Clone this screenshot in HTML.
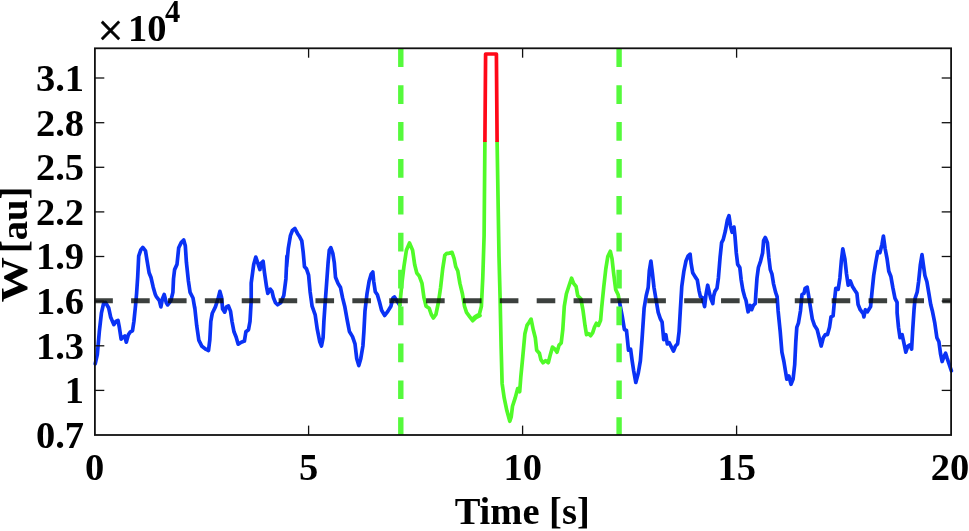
<!DOCTYPE html>
<html><head><meta charset="utf-8"><title>Plot</title>
<style>
html,body{margin:0;padding:0;background:#fff;}
svg{display:block}
text{font-family:"Liberation Serif",serif;font-weight:bold;font-size:38.5px;fill:#000}
</style></head><body>
<svg width="969" height="531" viewBox="0 0 969 531">
<rect width="969" height="531" fill="#fff"/>
<g fill="none" stroke-linejoin="round" stroke-linecap="round" stroke-width="3.7">
<path d="M95.2 363.9 L97.3 354.6 L99.3 331.8 L101.4 313.2 L103.5 303.8 L105.5 302.4 L108.7 308.0 L110.7 317.3 L113.8 324.6 L115.9 321.5 L118.0 320.4 L119.4 327.7 L121.1 339.1 L123.2 337.0 L124.8 336.0 L126.3 342.2 L128.3 334.9 L130.4 331.8 L132.5 330.8 L133.9 321.5 L135.6 304.9 L136.6 293.4 L137.7 276.8 L138.7 256.1 L140.8 249.9 L142.8 247.4 L145.5 250.9 L147.0 260.2 L149.1 272.7 L151.1 277.8 L153.2 287.2 L155.3 294.4 L156.3 296.6 L159.4 300.7 L160.9 306.9 L162.5 298.7 L164.2 294.5 L166.3 302.8 L167.7 304.9 L170.8 300.7 L172.9 292.4 L173.5 278.9 L174.6 269.6 L177.0 264.4 L178.7 247.8 L181.2 242.6 L183.7 239.9 L185.3 245.7 L186.4 262.3 L188.4 281.0 L190.1 292.4 L193.0 298.0 L194.7 307.9 L194.7 306.9 L196.7 325.6 L198.8 340.1 L201.9 346.3 L206.1 349.4 L208.5 350.5 L209.8 340.1 L210.8 321.5 L212.3 313.2 L215.4 306.9 L218.1 298.7 L219.9 291.4 L221.6 297.6 L222.6 309.0 L224.7 312.1 L226.4 306.9 L228.4 305.9 L230.5 311.1 L232.0 321.5 L234.0 331.8 L236.1 337.0 L238.2 344.2 L241.3 342.2 L244.4 341.1 L245.9 331.8 L248.5 329.7 L250.0 321.5 L251.2 300.7 L251.2 283.0 L253.7 264.4 L255.8 257.1 L257.9 263.3 L259.9 269.6 L261.0 263.3 L263.1 261.3 L264.5 272.7 L266.6 287.2 L267.8 293.4 L270.3 289.2 L272.0 291.3 L273.4 297.5 L275.5 302.7 L277.6 304.8 L280.7 302.7 L283.8 295.5 L285.9 278.9 L286.9 256.1 L286.6 266.8 L288.3 248.2 L290.4 235.7 L292.4 230.5 L294.9 228.5 L297.6 233.7 L299.7 236.8 L301.8 240.9 L303.2 252.3 L304.5 266.8 L306.5 268.9 L308.6 275.1 L310.1 291.7 L312.1 306.2 L315.2 314.9 L317.3 329.4 L319.8 341.8 L321.5 346.0 L323.1 337.7 L323.9 321.1 L325.2 302.4 L326.6 283.4 L328.1 262.7 L329.3 250.2 L330.8 247.7 L332.8 253.3 L334.3 262.7 L335.5 277.2 L338.0 283.4 L340.5 287.5 L342.6 297.9 L344.7 306.2 L347.4 321.1 L349.4 331.5 L352.5 336.6 L355.0 343.9 L356.7 358.4 L358.8 365.6 L360.8 358.4 L362.9 346.0 L363.9 331.5 L365.0 310.7 L367.0 293.8 L369.1 281.3 L371.2 274.1 L372.8 272.0 L373.7 281.3 L375.3 291.7 L377.4 294.8 L379.5 302.0 L381.6 310.3 L384.7 315.5 L387.8 311.4 L390.9 306.2 L393.0 297.9 L394.4 296.9 L397.1 301.0 L399.8 305.2" stroke="#0a32f5"/>
<path d="M399.8 305.2 L401.9 283.4 L403.9 266.8 L406.4 250.2 L409.5 243.0 L412.6 250.2 L414.7 264.7 L416.8 273.0 L419.3 276.1 L422.0 283.4 L424.0 297.9 L426.1 306.2 L429.2 308.3 L431.3 314.5 L433.4 318.0 L435.9 314.5 L438.5 302.0 L440.6 287.5 L442.7 268.9 L444.8 255.4 L446.8 253.3 L448.9 253.3 L452.0 252.3 L454.1 258.5 L455.8 266.8 L457.8 271.0 L459.9 283.4 L462.4 293.8 L464.5 306.2 L466.5 312.4 L469.6 316.6 L472.7 320.7 L475.9 317.6 L480.0 315.5 L473.1 318.6 L475.2 316.6 L477.3 315.5 L479.3 314.5 L481.4 306.2 L482.8 277.2 L484.1 235.7 L484.9 142.0" stroke="#50fa28"/>
<path d="M497.1 142.0 L499.0 256.5 L500.1 297.9 L501.1 346.1 L502.1 383.4 L504.2 397.9 L506.9 410.8 L509.8 421.3 L511.2 417.0 L512.5 406.2 L515.2 397.9 L517.7 388.6 L519.7 391.7 L520.8 377.2 L522.8 356.5 L524.9 333.7 L527.0 325.4 L529.1 322.3 L531.1 319.1 L533.2 329.5 L535.3 337.8 L536.7 350.2 L539.4 353.3 L540.9 359.6 L543.0 362.7 L545.6 360.6 L548.3 362.7 L550.4 354.4 L552.5 347.1 L555.0 349.2 L557.0 352.3 L559.1 345.1 L561.2 343.0 L562.8 329.5 L564.3 306.2 L566.4 293.8 L569.1 285.5 L571.6 278.2 L573.6 283.4 L576.1 286.5 L577.8 295.8 L580.9 298.9 L583.0 310.3 L585.0 325.4 L586.5 334.7 L588.5 333.7 L590.6 335.7 L592.7 332.6 L594.4 327.4 L596.4 323.3 L598.5 325.4 L600.6 320.2 L601.6 308.3 L603.7 287.5 L605.8 268.9 L607.8 256.5 L610.3 251.3 L612.0 258.5 L613.6 273.0 L615.7 289.6 L618.2 294.8 L619.6 302.0" stroke="#50fa28"/>
<path d="M484.9 142.0 L485.6 54.0 L496.4 54.0 L497.1 142.0" stroke="#ff0818" stroke-linecap="butt"/>
<path d="M619.6 302.0 L620.3 306.2 L622.3 316.6 L624.4 329.5 L626.5 330.5 L628.5 350.2 L630.6 349.2 L632.1 360.6 L633.7 371.0 L635.8 382.4 L638.3 373.0 L640.4 360.6 L642.0 339.9 L644.1 308.3 L646.2 295.8 L648.2 287.5 L649.3 271.0 L650.9 261.0 L652.4 273.0 L654.0 287.5 L656.1 300.0 L658.2 312.4 L660.3 318.6 L662.1 322.1 L663.7 339.7 L665.8 334.6 L667.3 343.9 L669.3 342.8 L671.4 347.0 L673.5 351.1 L675.5 346.0 L677.6 343.9 L679.1 331.5 L680.3 310.7 L681.8 286.2 L683.8 271.7 L685.9 261.3 L688.0 256.1 L690.1 254.1 L691.1 263.4 L692.7 272.7 L695.2 276.9 L697.3 280.0 L699.0 290.3 L700.4 296.6 L702.5 297.6 L704.6 306.6 L706.0 294.5 L707.7 285.2 L709.3 292.4 L710.8 298.6 L712.8 303.5 L713.5 296.6 L714.9 291.4 L717.0 288.3 L718.4 277.9 L720.1 257.2 L721.6 242.7 L723.2 239.6 L725.3 231.3 L727.4 219.9 L729.0 215.7 L730.5 226.1 L732.1 232.3 L734.0 227.1 L735.0 236.5 L736.3 253.0 L737.7 264.4 L739.8 267.5 L741.2 280.0 L742.9 290.3 L744.6 296.6 L746.0 300.4 L748.1 311.8 L750.2 305.5 L751.6 309.7 L753.3 305.5 L755.3 303.5 L755.8 294.5 L757.0 277.9 L758.4 267.5 L760.5 261.3 L762.6 253.0 L763.6 240.6 L765.3 237.5 L767.4 242.7 L768.8 257.2 L770.3 269.6 L771.9 273.8 L773.6 284.1 L775.6 292.4 L777.1 296.6 L778.1 310.7 L780.2 331.5 L781.9 352.2 L783.9 361.5 L785.4 370.8 L786.8 379.1 L788.9 376.0 L791.0 384.3 L793.1 379.1 L794.7 364.6 L795.8 341.8 L796.8 327.3 L798.4 323.2 L800.5 310.7 L802.0 294.5 L804.0 293.4 L805.1 288.3 L807.2 287.2 L808.8 296.6 L810.3 306.6 L812.3 319.0 L814.4 325.2 L817.1 329.4 L819.2 337.7 L821.2 346.0 L823.3 337.7 L825.4 334.6 L827.5 334.6 L829.5 327.3 L831.0 316.9 L833.1 315.9 L834.5 300.4 L835.8 288.3 L838.2 289.3 L839.9 277.9 L841.3 261.3 L842.8 248.9 L844.9 259.2 L846.5 273.8 L848.2 285.2 L850.3 281.0 L852.3 286.2 L854.8 290.3 L856.9 293.4 L858.1 304.5 L860.2 309.7 L863.3 313.8 L863.9 316.9 L865.4 309.7 L867.4 311.8 L870.6 306.6 L872.0 292.0 L873.7 275.5 L875.7 263.0 L877.8 251.6 L879.9 252.7 L882.0 244.4 L883.4 236.1 L885.1 248.5 L887.1 258.9 L888.8 271.3 L890.9 276.5 L892.9 287.9 L895.0 298.3 L897.1 302.4 L897.1 312.8 L898.5 327.3 L900.0 337.7 L902.1 334.6 L904.1 343.9 L905.8 352.2 L907.9 346.0 L909.9 344.9 L911.6 349.1 L912.6 331.5 L914.1 308.7 L915.1 298.3 L917.2 292.0 L918.6 281.7 L920.3 265.1 L922.0 254.7 L923.4 265.1 L924.9 275.5 L926.9 281.7 L929.0 294.1 L930.7 304.5 L932.3 310.7 L934.8 323.2 L936.9 337.7 L938.9 341.8 L940.6 354.2 L942.1 361.5 L944.1 356.3 L945.6 353.2 L947.2 358.4 L949.3 364.6 L951.4 370.8" stroke="#0a32f5"/>
</g>
<line x1="94.25" y1="300.7" x2="951.1" y2="300.7" stroke="#050a08" stroke-opacity="0.78" stroke-width="4.9" stroke-dasharray="18.6 18.27"/>
<g stroke="#55fa3c" stroke-width="5.4" stroke-dasharray="18.7 18.2">
<line x1="400.8" y1="48.3" x2="400.8" y2="435.0"/>
<line x1="619.1" y1="48.3" x2="619.1" y2="435.0"/>
</g>
<g stroke="#111" stroke-width="1.3" fill="none">
<line x1="308.6" y1="435.0" x2="308.6" y2="425.6"/><line x1="308.6" y1="48.3" x2="308.6" y2="57.699999999999996"/><line x1="522.6" y1="435.0" x2="522.6" y2="425.6"/><line x1="522.6" y1="48.3" x2="522.6" y2="57.699999999999996"/><line x1="736.6" y1="435.0" x2="736.6" y2="425.6"/><line x1="736.6" y1="48.3" x2="736.6" y2="57.699999999999996"/><line x1="94.9" y1="390.4" x2="104.30000000000001" y2="390.4"/><line x1="951.1" y1="390.4" x2="941.7" y2="390.4"/><line x1="94.9" y1="345.8" x2="104.30000000000001" y2="345.8"/><line x1="951.1" y1="345.8" x2="941.7" y2="345.8"/><line x1="94.9" y1="301.1" x2="104.30000000000001" y2="301.1"/><line x1="951.1" y1="301.1" x2="941.7" y2="301.1"/><line x1="94.9" y1="256.5" x2="104.30000000000001" y2="256.5"/><line x1="951.1" y1="256.5" x2="941.7" y2="256.5"/><line x1="94.9" y1="211.9" x2="104.30000000000001" y2="211.9"/><line x1="951.1" y1="211.9" x2="941.7" y2="211.9"/><line x1="94.9" y1="167.3" x2="104.30000000000001" y2="167.3"/><line x1="951.1" y1="167.3" x2="941.7" y2="167.3"/><line x1="94.9" y1="122.7" x2="104.30000000000001" y2="122.7"/><line x1="951.1" y1="122.7" x2="941.7" y2="122.7"/><line x1="94.9" y1="78.0" x2="104.30000000000001" y2="78.0"/><line x1="951.1" y1="78.0" x2="941.7" y2="78.0"/>
</g>
<rect x="94.9" y="48.3" width="856.2" height="386.7" stroke="#111" stroke-width="1.8" fill="none"/>
<text x="84" y="447.9" text-anchor="end">0.7</text><text x="84" y="403.3" text-anchor="end">1</text><text x="84" y="358.7" text-anchor="end">1.3</text><text x="84" y="314.0" text-anchor="end">1.6</text><text x="84" y="269.4" text-anchor="end">1.9</text><text x="84" y="224.8" text-anchor="end">2.2</text><text x="84" y="180.2" text-anchor="end">2.5</text><text x="84" y="135.6" text-anchor="end">2.8</text><text x="84" y="90.9" text-anchor="end">3.1</text>
<text x="94.6" y="480.2" text-anchor="middle">0</text><text x="308.7" y="480.2" text-anchor="middle">5</text><text x="522.7" y="480.2" text-anchor="middle">10</text><text x="736.8" y="480.2" text-anchor="middle">15</text><text x="949.9" y="480.2" text-anchor="middle">20</text>
<text x="522.2" y="523.8" text-anchor="middle">Time [s]</text>
<text transform="translate(27.2,302.5) rotate(-90) scale(1.178,1)" font-size="37.5">W</text>
<text transform="translate(27.2,186.7) rotate(-90)" text-anchor="end" font-size="37.5">[au]</text>
<text x="97.5" y="40.5"><tspan font-weight="normal" font-size="46" dy="5" stroke="#000" stroke-width="0.5">×</tspan><tspan dx="4.5" dy="-5">10</tspan><tspan dy="-18.5" dx="-1.5" font-size="30.5">4</tspan></text>
</svg>
</body></html>
